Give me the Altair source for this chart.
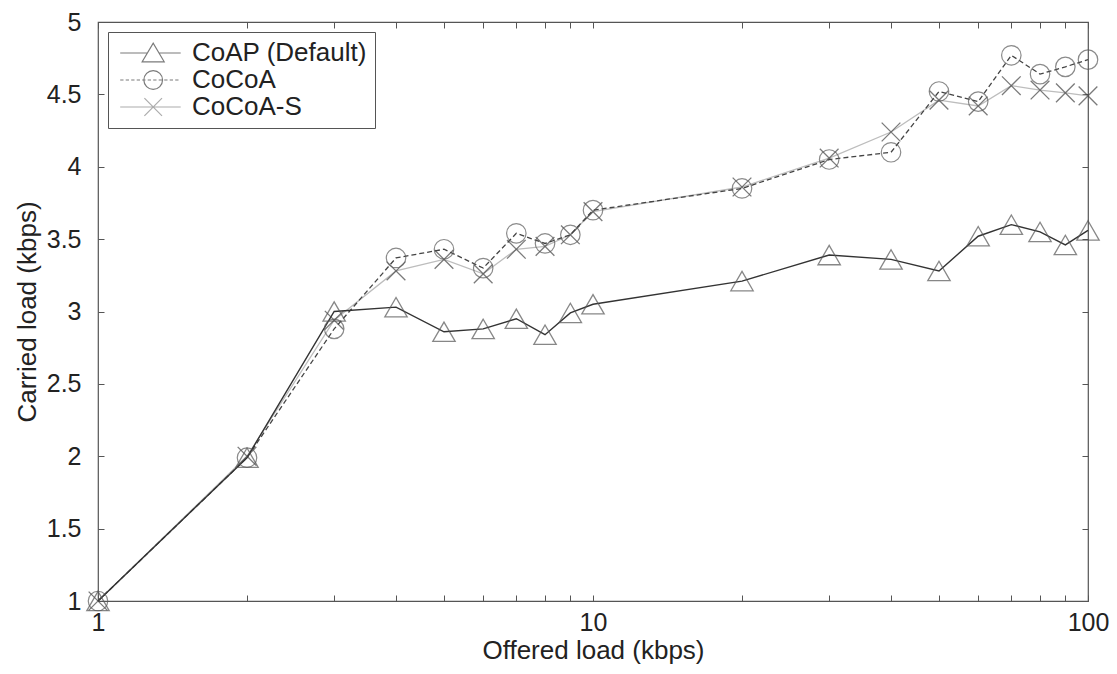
import altair as alt
import pandas as pd

# ---- data ----
offered = [1, 2, 3, 4, 5, 6, 7, 8, 9, 10, 20, 30, 40, 50, 60, 70, 80, 90, 100]
coap = [1.0, 1.99, 3.0, 3.03, 2.86, 2.88, 2.95, 2.84, 2.99, 3.05, 3.21, 3.39, 3.36, 3.28, 3.52, 3.60, 3.55, 3.46, 3.56]
cocoa = [1.0, 1.99, 2.88, 3.37, 3.43, 3.30, 3.54, 3.47, 3.53, 3.70, 3.85, 4.05, 4.10, 4.52, 4.45, 4.77, 4.64, 4.69, 4.74]
cocoa_s = [1.0, 2.0, 2.94, 3.28, 3.36, 3.26, 3.43, 3.45, 3.53, 3.69, 3.86, 4.06, 4.24, 4.46, 4.42, 4.56, 4.53, 4.51, 4.49]
series_names = ["CoAP (Default)", "CoCoA", "CoCoA-S"]
x_ticks = [1, 2, 3, 4, 5, 6, 7, 8, 9, 10, 20, 30, 40, 50, 60, 70, 80, 90, 100]
y_ticks = [1, 1.5, 2, 2.5, 3, 3.5, 4, 4.5, 5]

rows = []
for name, vals in zip(series_names, [coap, cocoa, cocoa_s]):
    for xv, yv in zip(offered, vals):
        rows.append({"series": name, "x": xv, "y": yv})
df = pd.DataFrame(rows)

FONT = "Liberation Sans"
TXT = "#222222"
TICK_FS = 25
TITLE_FS = 26

xscale = alt.Scale(type="log", domain=[1, 100], nice=False)
yscale = alt.Scale(domain=[1, 5], nice=False, zero=False)

x_axis_main = alt.Axis(
    orient="bottom", values=x_ticks, domain=False, grid=False, offset=-6, tickSize=6,
    tickColor="#555", labelPadding=9, labelFontSize=TICK_FS, labelFont=FONT, labelColor=TXT,
    labelExpr="indexof([1, 10, 100], datum.value) >= 0 ? format(datum.value, 'd') : ''",
    labelOverlap=False, labelFlush=False, title="Offered load (kbps)",
    titleFontSize=TITLE_FS, titleFont=FONT, titleFontWeight="normal", titleColor=TXT, titlePadding=2,
)
y_axis_main = alt.Axis(
    orient="left", values=y_ticks, domain=False, grid=False, offset=-6, tickSize=6,
    tickColor="#555", labelPadding=17, labelFontSize=TICK_FS, labelFont=FONT, labelColor=TXT,
    format="~g", labelOverlap=False, labelFlush=False, title="Carried load (kbps)",
    titleFontSize=TITLE_FS, titleFont=FONT, titleFontWeight="normal", titleColor=TXT, titlePadding=6,
)
x_axis_top = alt.Axis(orient="top", values=x_ticks, domain=False, grid=False, offset=-6,
                      tickSize=6, tickColor="#555", labels=False, title=None)
y_axis_right = alt.Axis(orient="right", values=y_ticks, domain=False, grid=False, offset=-6,
                        tickSize=6, tickColor="#555", labels=False, title=None)

base = alt.Chart(df)

def enc(chart, xa=None, ya=None):
    return chart.encode(
        x=alt.X("x:Q", scale=xscale, axis=xa),
        y=alt.Y("y:Q", scale=yscale, axis=ya),
    )

line_coap = enc(base.transform_filter(alt.datum.series == series_names[0])
                .mark_line(color="#333333", strokeWidth=1.4), x_axis_main, y_axis_main)
line_cocoa = enc(base.transform_filter(alt.datum.series == series_names[1])
                 .mark_line(color="#444444", strokeWidth=1.3, strokeDash=[5, 3]), x_axis_top, y_axis_right)
line_cocoa_s = enc(base.transform_filter(alt.datum.series == series_names[2])
                   .mark_line(color="#bdbdbd", strokeWidth=1.3))

X_SHAPE = "M-0.85,-0.85L0.85,0.85M-0.85,0.85L0.85,-0.85"
pts_coap = enc(base.transform_filter(alt.datum.series == series_names[0])
               .mark_point(shape="triangle-up", size=500, filled=False, color="#555555", strokeWidth=1.3))
pts_cocoa = enc(base.transform_filter(alt.datum.series == series_names[1])
                .mark_point(shape="circle", size=380, filled=False, color="#5a5a5a", strokeWidth=1.2))
pts_cocoa_s = enc(base.transform_filter(alt.datum.series == series_names[2])
                  .mark_point(shape=X_SHAPE, size=484, filled=False, color="#444444", strokeWidth=1.3))

# legend symbols: line + marker drawn as one path each
leg_tri = "M-0.8,0H1.67M2.73,0H4.7M1.2,0.8L2.2,-0.9L3.2,0.8Z"
dash = "M-0.8,0H-0.5M-0.3,0H0M0.2,0H0.5M0.7,0H1.0M1.2,0H1.5M1.7,0H2.0M2.2,0H2.5M2.7,0H3.0M3.2,0H3.5M3.7,0H4.0M4.2,0H4.5"
leg_circ = dash + "M1.35,0A0.85,0.85 0 1,0 3.05,0A0.85,0.85 0 1,0 1.35,0"
leg_x = "M-0.8,0H4.7M1.4,-0.8L3.0,0.8M1.4,0.8L3.0,-0.8"

legend = alt.Legend(
    title=None, orient="top-left", offset=10, padding=8, strokeColor="#555555", fillColor="white",
    labelFont=FONT, labelFontSize=26, labelColor=TXT, labelOffset=50, labelLimit=400,
    symbolSize=484, symbolStrokeWidth=1.2, rowPadding=1,
)
legend_layer = base.transform_filter(alt.datum.y < 0).mark_point(
    filled=False, size=484, strokeWidth=1.2
).encode(
    x=alt.X("x:Q", scale=xscale, axis=None),
    y=alt.Y("y:Q", scale=yscale, axis=None),
    color=alt.Color("series:N", scale=alt.Scale(domain=series_names, range=["#444444", "#444444", "#8a8a8a"]), legend=legend),
    shape=alt.Shape("series:N", scale=alt.Scale(domain=series_names, range=[leg_tri, leg_circ, leg_x]), legend=legend),
)

chart = alt.layer(
    line_cocoa_s, line_cocoa, line_coap, pts_cocoa_s, pts_cocoa, pts_coap, legend_layer
).resolve_axis(x="independent", y="independent").properties(
    width=990, height=579,
    autosize=alt.AutoSizeParams(type="none"),
    padding={"left": 90, "top": 14, "right": 21, "bottom": 65},
    background="white",
).configure_view(stroke="#555555", strokeWidth=1.2)

chart.save("out.html", embed_options={"renderer": "svg", "actions": False})
